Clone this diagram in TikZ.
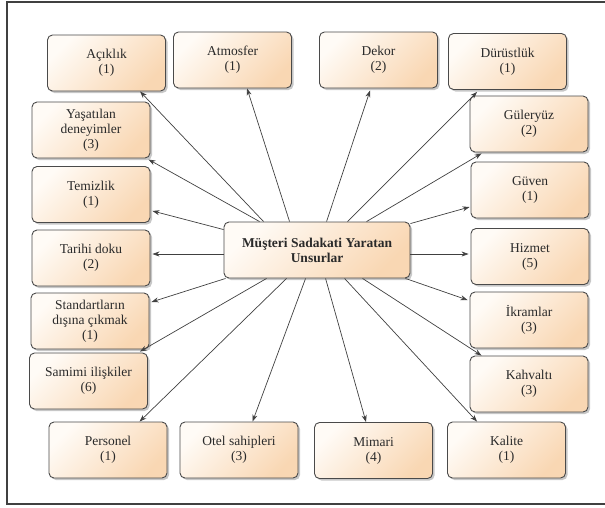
\documentclass[tikz,border=0pt]{standalone}
\usepackage{fontspec}
\setmainfont{Liberation Serif}
\usetikzlibrary{arrows.meta,calc,shadows}
\definecolor{boxlight}{HTML}{FFFBF6}
\definecolor{boxdark}{HTML}{F9D7B3}
\definecolor{edgegray}{HTML}{4A4A4A}
\definecolor{linegray}{HTML}{404040}
\definecolor{textgray}{HTML}{2A2A2A}
\begin{document}
\begin{tikzpicture}[x=1pt,y=-1pt,
  box/.style={draw=edgegray, line width=0.9pt, rounded corners=5pt,
    top color=boxlight, bottom color=boxdark, shading angle=45,
    minimum width=118pt, minimum height=56pt, align=center, text=textgray,
    font=\rmfamily\fontsize{13.5}{15}\selectfont,
    drop shadow={shadow xshift=2pt, shadow yshift=-2pt, opacity=0.22, fill=black}},
  arr/.style={draw=linegray, line width=0.7pt, -{Stealth[length=7pt,width=5pt]}},
  frameline/.style={draw=linegray, line width=1.4pt}]
\useasboundingbox (0,0) rectangle (605,507);
\draw[frameline] (606,2) -- (7,2) -- (7,504) -- (606,504);

\node[box] (acik) at (106.5,63) {Açıklık\\(1)};
\node[box] (atm) at (232.5,60) {Atmosfer\\(1)};
\node[box] (dek) at (378.5,60) {Dekor\\(2)};
\node[box] (dur) at (507.5,61.5) {Dürüstlük\\(1)};
\node[box] (yas) at (91,130) {Yaşatılan\\deneyimler\\(3)};
\node[box] (gul) at (529,124) {Güleryüz\\(2)};
\node[box] (tem) at (91,194.5) {Temizlik\\(1)};
\node[box] (guv) at (530,190) {Güven\\(1)};
\node[box] (tar) at (91,258) {Tarihi doku\\(2)};
\node[box] (hiz) at (530,256.5) {Hizmet\\(5)};
\node[box] (std) at (90,321) {Standartların\\dışına çıkmak\\(1)};
\node[box] (ikr) at (529,320) {İkramlar\\(3)};
\node[box] (sam) at (88.5,381) {Samimi ilişkiler\\(6)};
\node[box] (kah) at (529,384) {Kahvaltı\\(3)};
\node[box] (per) at (108,450) {Personel\\(1)};
\node[box] (ote) at (239,450) {Otel sahipleri\\(3)};
\node[box] (mim) at (373.5,450.5) {Mimari\\(4)};
\node[box] (kal) at (506.5,450) {Kalite\\(1)};
\node[box, minimum width=186pt, font=\rmfamily\fontsize{13.5}{15}\selectfont\bfseries] (c) at (317,250) {Müşteri Sadakati Yaratan\\Unsurlar};

\draw[arr] ($(c.north west)+(40,0)$) -- ($(acik.south west)+(93,0)$);
\draw[arr] ($(c.north west)+(66,0)$) -- ($(atm.south west)+(74,0)$);
\draw[arr] ($(c.north west)+(36,0)$) -- ($(yas.south east)+(-2,1)$);
\draw[arr] ($(c.north west)+(0,8)$) -- ($(tem.south east)+(2,-12)$);
\draw[arr] ($(c.west)+(0,4)$) -- ($(tar.east)+(2,-4)$);
\draw[arr] ($(c.south west)+(2,0)$) -- ($(std.east)+(2,-19)$);
\draw[arr] ($(c.south west)+(43,0)$) -- ($(sam.north east)+(-8,-1)$);
\draw[arr] ($(c.south west)+(63,0)$) -- ($(per.north west)+(91,0)$);
\draw[arr] ($(c.south west)+(82,0)$) -- ($(ote.north west)+(73,0)$);
\draw[arr] ($(c.south west)+(102,0)$) -- ($(mim.north west)+(52,0)$);
\draw[arr] ($(c.south west)+(121,0)$) -- ($(kal.north west)+(30,0)$);
\draw[arr] ($(c.south west)+(139,0)$) -- ($(kah.north west)+(12,0)$);
\draw[arr] ($(c.south east)+(-5,0)$) -- ($(ikr.west)+(-2,-20)$);
\draw[arr] ($(c.east)+(0,4)$) -- ($(hiz.west)+(-2,-2.5)$);
\draw[arr] ($(c.north east)+(0,2)$) -- ($(guv.west)+(-1,17)$);
\draw[arr] ($(c.north west)+(143,0)$) -- ($(gul.south west)+(12,1)$);
\draw[arr] ($(c.north west)+(124,0)$) -- ($(dur.south west)+(29,2)$);
\draw[arr] ($(c.north west)+(103,0)$) -- ($(dek.south west)+(51,2)$);
\end{tikzpicture}
\end{document}
